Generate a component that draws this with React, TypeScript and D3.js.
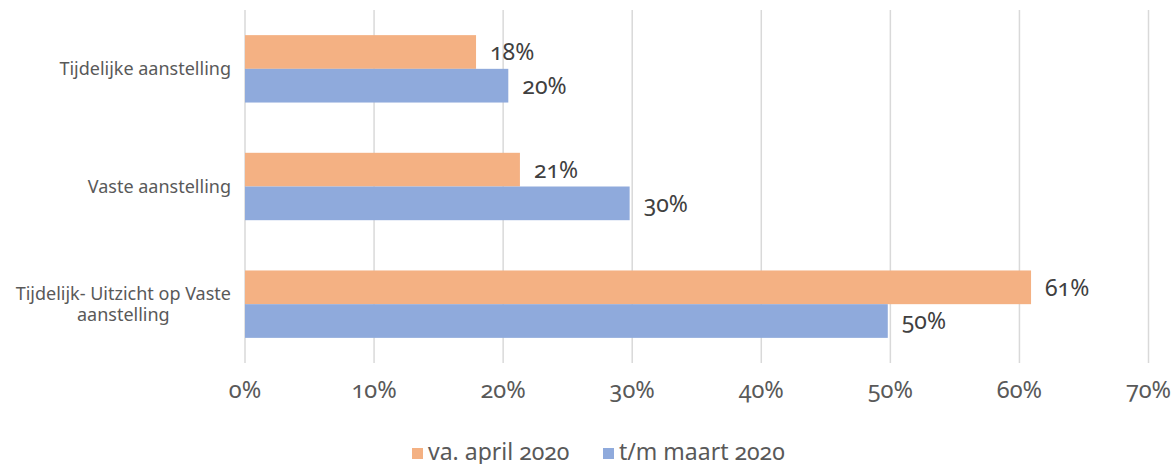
import React from "react";
import * as d3 from "d3";

const categories = ["Tijdelijke aanstelling", "Vaste aanstelling", "Tijdelijk- Uitzicht op Vaste aanstelling"];
const categoryLines = [["Tijdelijke aanstelling"], ["Vaste aanstelling"], ["Tijdelijk- Uitzicht op Vaste", "aanstelling"]];
const seriesNames = ["va. april 2020", "t/m maart 2020"];
const seriesColors = ["#F4B183", "#8FAADC"];
const vaApril = [17.9, 21.3, 60.9];
const tmMaart = [20.4, 29.8, 49.8];
const labelsApril = ["18%", "21%", "61%"];
const labelsMaart = ["20%", "30%", "50%"];
const xTicks = [0, 10, 20, 30, 40, 50, 60, 70];

const W = 1176, H = 464;
const FONT = "'Noto Sans', 'Open Sans', sans-serif";
const CAT_SIZE = 18;

function measure(text: string, size: number): number {
  if (typeof document === "undefined") return text.length * size * 0.5;
  const c = document.createElement("canvas").getContext("2d");
  if (!c) return text.length * size * 0.5;
  c.font = `${size}px ${FONT}`;
  return c.measureText(text).width;
}

export default function App() {
  const x = d3.scaleLinear().domain([0, 70]).range([245, 1148.5]);
  const y = d3.scaleBand<string>().domain(categories).range([10, 363]).paddingInner(0).paddingOuter(0);
  const bandH = y.bandwidth();
  const barH = 33.7;
  const series = [vaApril, tmMaart];
  const labels = [labelsApril, labelsMaart];
  const numStyle = { fontVariantNumeric: "oldstyle-nums" } as React.CSSProperties;
  const lineGap = 21;
  return (
    <svg width={W} height={H} style={{ position: "fixed", left: 0, top: 0, background: "#fff" }} fontFamily={FONT}>
      {xTicks.map((t) => (
        <line key={t} x1={x(t)} x2={x(t)} y1={10} y2={363} stroke="#D9D9D9" strokeWidth={1.5} />
      ))}
      {categories.map((c, i) => {
        const cy = (y(c) as number) + bandH / 2;
        const lines = categoryLines[i];
        const maxW = Math.max(...lines.map((l) => measure(l, CAT_SIZE)));
        const cx = 231 - maxW / 2;
        return (
          <g key={c}>
            {series.map((s, j) => {
              const top = cy - barH + j * barH;
              return (
                <g key={j}>
                  <rect x={x(0)} y={top} width={x(s[i]) - x(0)} height={barH} fill={seriesColors[j]} />
                  <text x={x(s[i]) + 14} y={top + barH / 2} dy="0.36em" fontSize={23} fill="#404040"
                    style={numStyle}>{labels[j][i]}</text>
                </g>
              );
            })}
            <text y={cy - (lines.length - 1) * lineGap / 2} textAnchor="middle" fontSize={CAT_SIZE} fill="#595959">
              {lines.map((l, k) => (
                <tspan key={k} x={cx} dy={k === 0 ? "0.35em" : lineGap}>{l}</tspan>
              ))}
            </text>
          </g>
        );
      })}
      {xTicks.map((t) => (
        <text key={"l" + t} x={x(t)} y={390} dy="0.35em" textAnchor="middle" fontSize={23.5} fill="#595959"
          style={numStyle}>{t + "%"}</text>
      ))}
      {seriesNames.map((n, j) => {
        const lx = [412, 603][j];
        return (
          <g key={n}>
            <rect x={lx} y={448} width={11} height={11} fill={seriesColors[j]} />
            <text x={lx + 16} y={452} dy="0.35em" fontSize={23} fill="#595959" style={numStyle}>{n}</text>
          </g>
        );
      })}
    </svg>
  );
}
